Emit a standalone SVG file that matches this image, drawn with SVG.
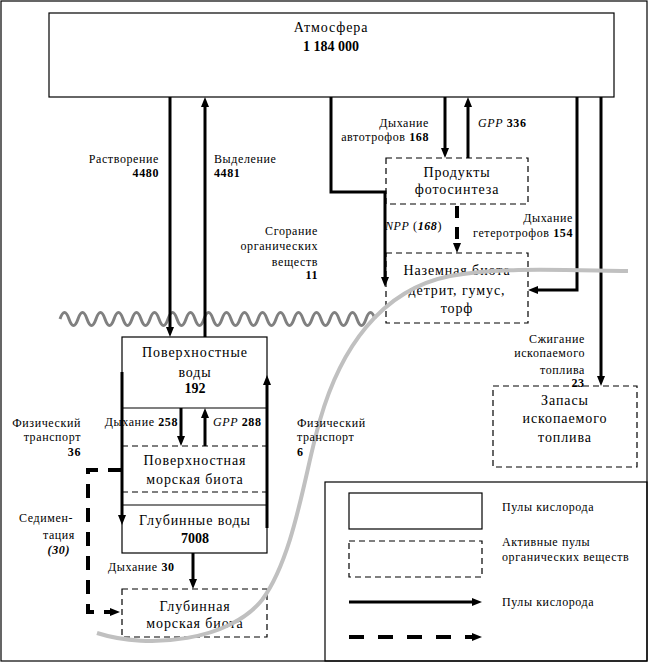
<svg xmlns="http://www.w3.org/2000/svg" width="650" height="663" viewBox="0 0 650 663">
<style>
text{font-family:"Liberation Serif","Times New Roman",serif}
.box{fill:#fff;stroke:#000;stroke-width:1.2}
.dbox{fill:none;stroke:#000;stroke-width:1.2;stroke-dasharray:6,4}
.ln{fill:none;stroke:#000;stroke-width:1.2}
.dln{fill:none;stroke:#000;stroke-width:1.2;stroke-dasharray:6,4}
.c{fill:none;stroke:#000;stroke-width:3}
.cd{fill:none;stroke:#000;stroke-width:4;stroke-dasharray:12,9}
.t{font-size:14px;letter-spacing:0.9px;fill:#000}
.l{font-size:12px;letter-spacing:0.6px;fill:#000}
.m{text-anchor:middle}
.e{text-anchor:end}
.b{font-weight:bold}
.i{font-style:italic}
</style>
<defs>
<marker id="ah" markerUnits="userSpaceOnUse" markerWidth="10" markerHeight="8" refX="3" refY="4" orient="auto">
<path d="M0,0 L10,4 L0,8 z" fill="#000"/>
</marker>
</defs>
<rect x="1" y="1" width="646" height="660" fill="#fff" stroke="#000" stroke-width="1.2"/>

<g id="ocean-wave">
<path d="M60,319 q4.5,-13 9,0 t9,0 t9,0 t9,0 t9,0 t9,0 t9,0 t9,0 t9,0 t9,0 t9,0 t9,0 t9,0 t9,0 t9,0 t9,0 t9,0 t9,0 t9,0 t9,0 t9,0 t9,0 t9,0 t9,0 t9,0 t9,0 t9,0 t9,0 t9,0 t9,0 t9,0 t9,0 t9,0 t9,0 t9,0" fill="none" stroke="#808080" stroke-width="3"/>
</g>

<g id="atmosphere">
<rect class="box" x="49" y="13" width="565" height="84"/>
<text class="t m" x="331" y="32">Атмосфера</text>
<text class="t m b" x="331" y="51" style="letter-spacing:0">1 184 000</text>
</g>

<g id="photosynthesis-products">
<rect class="dbox" x="386" y="158" width="142" height="46"/>
<text class="t m" x="457" y="177">Продукты</text>
<text class="t m" x="457" y="194">фотосинтеза</text>
</g>

<g id="land-biota">
<rect class="dbox" x="386" y="253" width="142" height="70"/>
<text class="t m" x="457" y="275">Наземная биота</text>
<text class="t m" x="457" y="295">детрит, гумус,</text>
<text class="t m" x="457" y="313">торф</text>
</g>

<g id="fossil-fuel">
<rect class="dbox" x="493" y="386" width="144" height="81"/>
<text class="t m" x="565" y="405">Запасы</text>
<text class="t m" x="565" y="423">ископаемого</text>
<text class="t m" x="565" y="442">топлива</text>
</g>

<g id="surface-waters">
<rect class="box" x="122" y="337" width="145" height="216"/>
<line class="ln" x1="122" y1="408" x2="267" y2="408"/>
<text class="t m" x="195" y="357">Поверхностные</text>
<text class="t m" x="195" y="377">воды</text>
<text class="t m b" x="195" y="393" style="letter-spacing:0">192</text>
</g>

<g id="surface-marine-biota">
<line class="dln" x1="122" y1="446" x2="267" y2="446"/>
<line class="dln" x1="122" y1="492" x2="267" y2="492"/>
<text class="t m" x="195" y="465">Поверхностная</text>
<text class="t m" x="195" y="484">морская биота</text>
</g>

<g id="deep-waters">
<line class="ln" x1="122" y1="505" x2="267" y2="505"/>
<text class="t m" x="195" y="525">Глубинные воды</text>
<text class="t m b" x="195" y="543" style="letter-spacing:0">7008</text>
</g>

<g id="deep-marine-biota">
<rect class="dbox" x="122" y="589" width="145" height="48"/>
<text class="t m" x="195" y="611">Глубинная</text>
<text class="t m" x="195" y="628">морская биота</text>
</g>

<g id="connectors">
<line class="c" x1="170" y1="97" x2="170" y2="330" marker-end="url(#ah)"/>
<line class="c" x1="205" y1="337" x2="205" y2="104" marker-end="url(#ah)"/>
<polyline class="c" points="331,97 331,192 385,192 385,280" marker-end="url(#ah)"/>
<line class="c" x1="445" y1="97" x2="445" y2="151" marker-end="url(#ah)"/>
<line class="c" x1="468" y1="158" x2="468" y2="104" marker-end="url(#ah)"/>
<line class="cd" x1="457" y1="206" x2="457" y2="246" marker-end="url(#ah)"/>
<polyline class="c" points="577,97 577,290 535,290" marker-end="url(#ah)"/>
<line class="c" x1="601" y1="97" x2="601" y2="379" marker-end="url(#ah)"/>
<line class="c" x1="122" y1="372" x2="122" y2="518" marker-end="url(#ah)"/>
<line class="c" x1="267" y1="528" x2="267" y2="382" marker-end="url(#ah)"/>
<line class="c" x1="181" y1="408" x2="181" y2="439" marker-end="url(#ah)"/>
<line class="c" x1="205" y1="446" x2="205" y2="415" marker-end="url(#ah)"/>
<path class="cd" d="M122,470 L88,470 L88,612 L113,612" marker-end="url(#ah)" style="stroke-dasharray:14,10"/>
<line class="c" x1="193" y1="553" x2="193" y2="582" marker-end="url(#ah)"/>
</g>

<g id="gray-curve">
<path d="M97,633 C150,650 230,640 262,600 C295,555 305,470 320,420 C340,350 380,290 450,276 C500,267 560,270 628,271" fill="none" stroke="#c0c0c0" stroke-width="4"/>
</g>

<g id="labels">
<text class="l e" x="159" y="163">Растворение</text>
<text class="l e b" x="159" y="177">4480</text>
<text class="l" x="214" y="163">Выделение</text>
<text class="l b" x="214" y="177">4481</text>
<text class="l e" x="318" y="235">Сгорание</text>
<text class="l e" x="318" y="250">органических</text>
<text class="l e" x="318" y="266">веществ</text>
<text class="l e b" x="318" y="279">11</text>
<text class="l e" x="429" y="127">Дыхание</text>
<text class="l e" x="429" y="141">автотрофов <tspan class="b">168</tspan></text>
<text class="l" x="478" y="127"><tspan class="i">GPP</tspan> <tspan class="b">336</tspan></text>
<text class="l" x="385" y="230"><tspan class="i">NPP</tspan> (<tspan class="b i">168</tspan>)</text>
<text class="l e" x="573" y="222">Дыхание</text>
<text class="l e" x="573" y="237">гетеротрофов <tspan class="b">154</tspan></text>
<text class="l e" x="585" y="343">Сжигание</text>
<text class="l e" x="585" y="357">ископаемого</text>
<text class="l e" x="585" y="374">топлива</text>
<text class="l m b" x="578" y="387">23</text>
<text class="l e" x="81" y="427">Физический</text>
<text class="l e" x="81" y="441">транспорт</text>
<text class="l e b" x="81" y="456">36</text>
<text class="l e" x="178" y="426">Дыхание <tspan class="b">258</tspan></text>
<text class="l" x="213" y="426"><tspan class="i">GPP</tspan> <tspan class="b">288</tspan></text>
<text class="l" x="297" y="427">Физический</text>
<text class="l" x="297" y="441">транспорт</text>
<text class="l b" x="297" y="456">6</text>
<text class="l e" x="73" y="522">Седимен-</text>
<text class="l e" x="75" y="539">тация</text>
<text class="l e b i" x="70" y="554">(30)</text>
<text class="l" x="108" y="571">Дыхание <tspan class="b">30</tspan></text>
</g>

<g id="legend">
<rect class="ln" x="325" y="482" width="322" height="179"/>
<rect class="box" x="349" y="493" width="133" height="36"/>
<rect class="dbox" x="349" y="541" width="133" height="36"/>
<line class="c" x1="349" y1="602" x2="475" y2="602" marker-end="url(#ah)"/>
<line class="cd" x1="349" y1="637" x2="475" y2="637" marker-end="url(#ah)" style="stroke-dasharray:15,14"/>
<text class="l" x="502" y="511">Пулы кислорода</text>
<text class="l" x="502" y="546">Активные пулы</text>
<text class="l" x="502" y="561">органических веществ</text>
<text class="l" x="502" y="606">Пулы кислорода</text>
</g>
</svg>
